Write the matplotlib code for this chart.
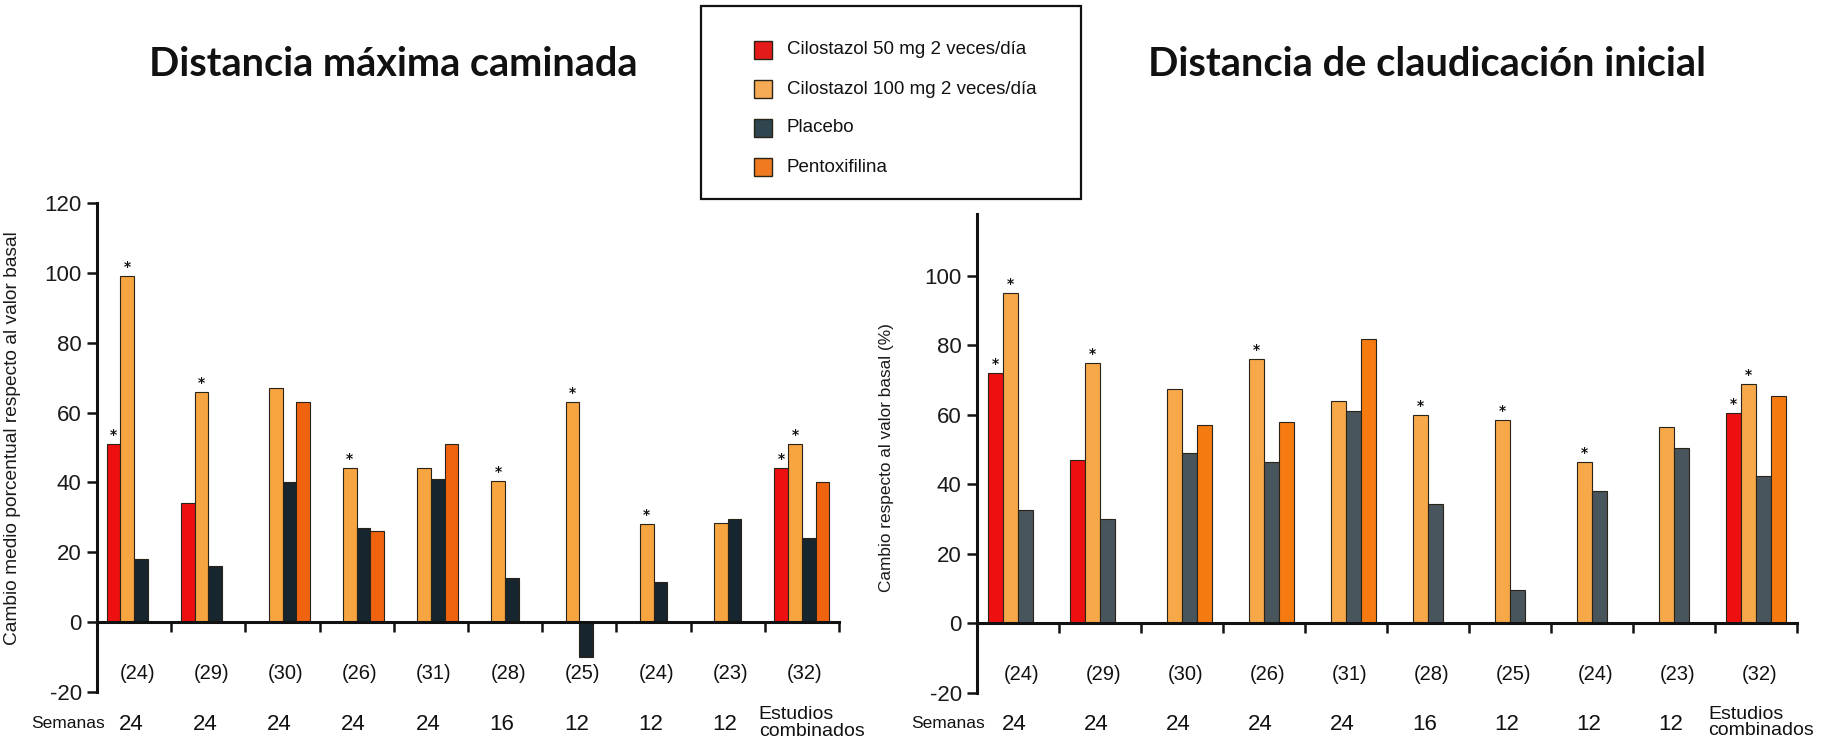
import matplotlib
matplotlib.use('Agg')
import matplotlib.pyplot as plt
import numpy as np
from matplotlib.patches import Rectangle

nan = np.nan
series = ['Cilostazol 50 mg 2 veces/día', 'Cilostazol 100 mg 2 veces/día', 'Placebo', 'Pentoxifilina']
study_n = ['(24)', '(29)', '(30)', '(26)', '(31)', '(28)', '(25)', '(24)', '(23)', '(32)']
weeks = ['24', '24', '24', '24', '24', '16', '12', '12', '12', 'Estudios\ncombinados']

# Distancia máxima caminada
max_cilo50 = [51, 34, nan, nan, nan, nan, nan, nan, nan, 44]
max_cilo100 = [99, 66, 67, 44, 44, 40.5, 63, 28, 28.5, 51]
max_placebo = [18, 16, 40, 27, 41, 12.5, -10, 11.5, 29.5, 24]
max_pentox = [nan, nan, 63, 26, 51, nan, nan, nan, nan, 40]

# Distancia de claudicación inicial
ini_cilo50 = [72, 47, nan, nan, nan, nan, nan, nan, nan, 60.5]
ini_cilo100 = [95, 75, 67.5, 76, 64, 60, 58.5, 46.5, 56.5, 69]
ini_placebo = [32.5, 30, 49, 46.5, 61, 34.5, 9.5, 38, 50.5, 42.5]
ini_pentox = [nan, nan, 57, 58, 82, nan, nan, nan, nan, 65.5]

# significance flags (*)
sig_cilo50 = [1, 0, 0, 0, 0, 0, 0, 0, 0, 1]
sig_cilo100 = [1, 1, 0, 1, 0, 1, 1, 1, 0, 1]
sig_placebo = [0] * 10
sig_pentox = [0] * 10

titles = ['Distancia máxima caminada', 'Distancia de claudicación inicial']
ylabels = ['Cambio medio porcentual respecto al valor basal', 'Cambio respecto al valor basal (%)']

colors_left = ['#EE1010', '#F7A540', '#17252F', '#F06410']
colors_right = ['#EE1010', '#F7A848', '#48555C', '#F57A10']
legend_colors = ['#E51B1B', '#F5AA55', '#2F4550', '#F07A1F']

W, H = 1839, 750
fig = plt.figure(figsize=(W / 100, H / 100), dpi=100)
fig.patch.set_facecolor('white')

TICKFONT = ['Liberation Sans', 'DejaVu Sans']
NARROW = ['Liberation Sans Narrow', 'Liberation Sans', 'DejaVu Sans']


def draw_chart(rect, data, sigs, colors, ylim, yticks, ylabel, ylab_size, label_coords, nlab_y, week_y):
    ax = fig.add_axes(rect)
    n = len(study_n)
    w = 0.185
    centers = np.arange(n) + 0.5
    for j, (vals, sg, c) in enumerate(zip(data, sigs, colors)):
        vals = np.array(vals, dtype=float)
        m = ~np.isnan(vals)
        xs = centers + (j - 1.5) * w
        ax.bar(xs[m], vals[m], width=w, color=c, edgecolor='#2a2418', linewidth=0.8, zorder=2)
        for xi, v, s in zip(xs, vals, sg):
            if s and not np.isnan(v):
                ax.annotate('*', (xi, v), xytext=(0, 1.5), textcoords='offset points',
                            ha='center', va='bottom', fontsize=10, fontweight='bold', color='#111111')
    ax.set_xlim(0, n)
    ax.set_ylim(*ylim)
    for s in ['top', 'right']:
        ax.spines[s].set_visible(False)
    ax.spines['bottom'].set_position(('data', 0))
    ax.spines['left'].set_bounds(ylim[0], ylim[1])
    for s in ['left', 'bottom']:
        ax.spines[s].set_linewidth(2.2)
        ax.spines[s].set_color('#111111')
    ax.set_xticks(np.arange(1, n + 1))
    ax.set_xticklabels([])
    ax.tick_params(axis='x', direction='out', length=7, width=1.8, color='#111111')
    ax.set_yticks(yticks)
    ax.set_yticklabels([str(t) for t in yticks], fontfamily=TICKFONT, fontsize=16, color='#1a1a1a')
    ax.tick_params(axis='y', direction='out', length=7, width=1.8, color='#111111', pad=4)
    ax.set_ylabel(ylabel, fontfamily=TICKFONT, fontsize=ylab_size, color='#1a1a1a')
    ax.yaxis.set_label_coords(*label_coords)
    for i in range(n):
        ax.text(centers[i] + 0.04, nlab_y, study_n[i], ha='center', va='center',
                fontfamily=TICKFONT, fontsize=14.5, color='#111111')
        if '\n' in weeks[i]:
            ax.text(i - 0.08, week_y + 0.4, weeks[i], ha='left', va='center', fontfamily=NARROW,
                    fontsize=14, color='#111111', linespacing=0.95, clip_on=False)
        else:
            ax.text(centers[i] - 0.04, week_y, weeks[i], ha='center', va='center', fontfamily=NARROW,
                    fontsize=16, color='#111111', clip_on=False)
    return ax


axL = draw_chart([97 / W, 1 - 692 / H, 742 / W, (692 - 203) / H],
                 [max_cilo50, max_cilo100, max_placebo, max_pentox],
                 [sig_cilo50, sig_cilo100, sig_placebo, sig_pentox],
                 colors_left, (-20, 120), [-20, 0, 20, 40, 60, 80, 100, 120],
                 ylabels[0], 13.8, (-0.103, 0.52), -14.6, -29.3)
axR = draw_chart([977 / W, 1 - 692.8 / H, 820 / W, (692.8 - 213.5) / H],
                 [ini_cilo50, ini_cilo100, ini_placebo, ini_pentox],
                 [sig_cilo50, sig_cilo100, sig_placebo, sig_pentox],
                 colors_right, (-20, 118), [-20, 0, 20, 40, 60, 80, 100],
                 ylabels[1], 12.4, (-0.101, 0.49), -14.6, -29.0)

fig.text(68 / W, 1 - 723 / H, 'Semanas', ha='center', va='center', fontfamily=NARROW, fontsize=12.5, color='#111111')
fig.text(948 / W, 1 - 723 / H, 'Semanas', ha='center', va='center', fontfamily=NARROW, fontsize=12.5, color='#111111')

fig.text(393 / W, 1 - 64 / H, titles[0], ha='center', va='center', fontfamily=['Lato', 'DejaVu Sans'],
         fontweight='bold', fontsize=28.5, color='#111111')
fig.text(1427 / W, 1 - 64 / H, titles[1], ha='center', va='center', fontfamily=['Lato', 'DejaVu Sans'],
         fontweight='bold', fontsize=28.7, color='#111111')

# legend box
fig.patches.append(Rectangle((701 / W, 1 - 199 / H), 380 / W, 193 / H, transform=fig.transFigure,
                             facecolor='white', edgecolor='#111111', linewidth=1.6))
rows_y = [50, 89, 128, 167]
for lab, c, yy in zip(series, legend_colors, rows_y):
    fig.patches.append(Rectangle((754 / W, 1 - (yy + 9) / H), 18 / W, 18 / H, transform=fig.transFigure,
                                 facecolor=c, edgecolor='#2a2418', linewidth=1.0))
    fig.text(787 / W, 1 - yy / H, lab, ha='left', va='center', fontfamily=NARROW, fontsize=13.5, color='#111111')

fig.savefig('out.png', dpi=100, facecolor='white')
